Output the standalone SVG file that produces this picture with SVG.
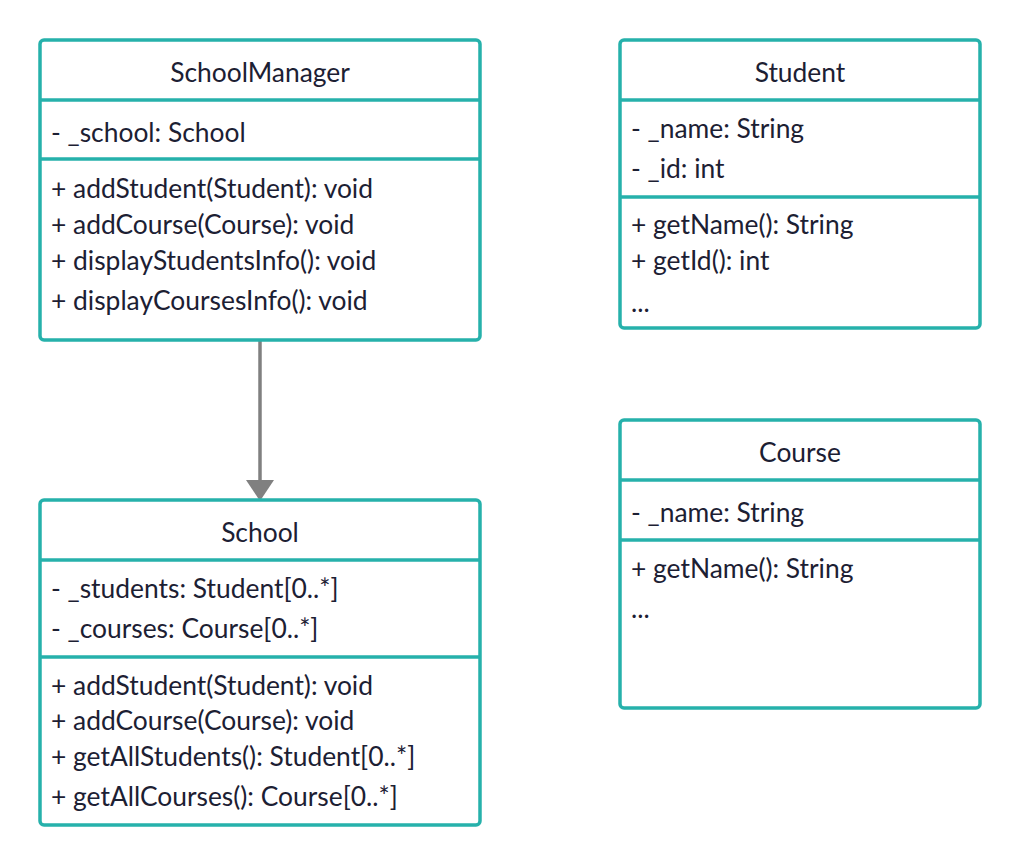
<svg xmlns="http://www.w3.org/2000/svg" width="1020" height="865" viewBox="0 0 1020 865">
<defs>
<style>
.box{fill:#ffffff;stroke:#26b1ab;stroke-width:3.5}
.div{stroke:#26b1ab;stroke-width:3.5}
.t{font-family:Lato,"Noto Sans",sans-serif;font-size:26.4px;font-weight:400;fill:#1c2033}
.c{text-anchor:middle}
.conn{stroke:#808080;stroke-width:3.5;fill:none}
</style>
</defs>
<rect width="1020" height="865" fill="#ffffff"/>
<g id="connectors">
<line class="conn" x1="260" y1="340" x2="260" y2="482"/>
<path d="M246,480 L274,480 L260,501 Z" fill="#808080"/>
</g>
<g id="SchoolManager">
<rect class="box" x="40" y="40" width="440" height="300" rx="4"/>
<line class="div" x1="40" y1="100" x2="480" y2="100"/>
<line class="div" x1="40" y1="159" x2="480" y2="159"/>
<text class="t c" x="260" y="82">SchoolManager</text>
<text class="t" x="51" y="142">- _school: School</text>
<text class="t" x="51" y="198">+ addStudent(Student): void</text>
<text class="t" x="51" y="234">+ addCourse(Course): void</text>
<text class="t" x="51" y="270">+ displayStudentsInfo(): void</text>
<text class="t" x="51" y="310">+ displayCoursesInfo(): void</text>
</g>
<g id="Student">
<rect class="box" x="620" y="40" width="360" height="288" rx="4"/>
<line class="div" x1="620" y1="100" x2="980" y2="100"/>
<line class="div" x1="620" y1="197" x2="980" y2="197"/>
<text class="t c" x="800" y="82">Student</text>
<text class="t" x="631" y="138">- _name: String</text>
<text class="t" x="631" y="178">- _id: int</text>
<text class="t" x="631" y="234">+ getName(): String</text>
<text class="t" x="631" y="270">+ getId(): int</text>
<text class="t" x="631" y="312">...</text>
</g>
<g id="Course">
<rect class="box" x="620" y="420" width="360" height="288" rx="4"/>
<line class="div" x1="620" y1="480" x2="980" y2="480"/>
<line class="div" x1="620" y1="540" x2="980" y2="540"/>
<text class="t c" x="800" y="462">Course</text>
<text class="t" x="631" y="522">- _name: String</text>
<text class="t" x="631" y="578">+ getName(): String</text>
<text class="t" x="631" y="618">...</text>
</g>
<g id="School">
<rect class="box" x="40" y="500" width="440" height="325" rx="4"/>
<line class="div" x1="40" y1="560" x2="480" y2="560"/>
<line class="div" x1="40" y1="657" x2="480" y2="657"/>
<text class="t c" x="260" y="542">School</text>
<text class="t" x="51" y="598">- _students: Student[0..*]</text>
<text class="t" x="51" y="638">- _courses: Course[0..*]</text>
<text class="t" x="51" y="695">+ addStudent(Student): void</text>
<text class="t" x="51" y="730">+ addCourse(Course): void</text>
<text class="t" x="51" y="766">+ getAllStudents(): Student[0..*]</text>
<text class="t" x="51" y="806">+ getAllCourses(): Course[0..*]</text>
</g>
</svg>
